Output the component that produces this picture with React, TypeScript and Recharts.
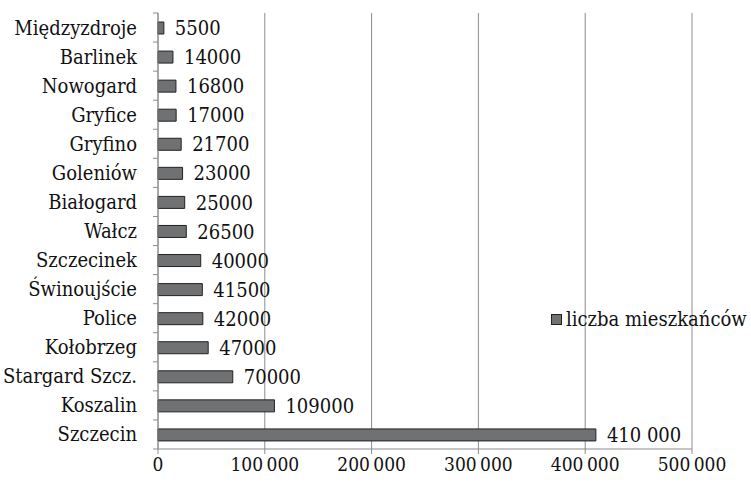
import { BarChart, Bar, XAxis, YAxis, CartesianGrid, Legend, LabelList } from "recharts";

// miasta (od góry) i liczba mieszkańców
const cities = [
  "Międzyzdroje",
  "Barlinek",
  "Nowogard",
  "Gryfice",
  "Gryfino",
  "Goleniów",
  "Białogard",
  "Wałcz",
  "Szczecinek",
  "Świnoujście",
  "Police",
  "Kołobrzeg",
  "Stargard Szcz.",
  "Koszalin",
  "Szczecin",
];
const population = [
  5500, 14000, 16800, 17000, 21700, 23000, 25000, 26500, 40000, 41500, 42000,
  47000, 70000, 109000, 410000,
];
const valueLabels = [
  "5500", "14000", "16800", "17000", "21700", "23000", "25000", "26500",
  "40000", "41500", "42000", "47000", "70000", "109000", "410 000",
];
const xTicks = [0, 100000, 200000, 300000, 400000, 500000];
const xTickLabels = ["0", "100\u2009000", "200\u2009000", "300\u2009000", "400\u2009000", "500\u2009000"];
const seriesName = "liczba mieszkańców";

const data = cities.map((city, i) => ({
  city,
  value: population[i],
  label: valueLabels[i],
}));

const W = 751;
const H = 485;
const M = { top: 13, right: 59, left: 0, bottom: 6 };
const X_AXIS_H = 30;
const Y_AXIS_W = 158;
const band = (H - M.top - M.bottom - X_AXIS_H) / cities.length;

const FONT = "DejaVu Serif Condensed";
const GRID = "#8c8c8c";
const INK = "#111";

// etykieta kategorii + kreska podziałki na granicy pasma
const CityTick = (props: any) => {
  const { x, y, payload, index } = props;
  return (
    <g>
      <text x={x - 21} y={y} dy="0.35em" textAnchor="end" fontSize={20} style={{ fontFamily: FONT }} fill={INK}>
        {payload.value}
      </text>
      <line x1={x - 5} x2={x} y1={y + band / 2} y2={y + band / 2} stroke={GRID} />
      {index === 0 && <line x1={x - 5} x2={x} y1={y - band / 2} y2={y - band / 2} stroke={GRID} />}
    </g>
  );
};

const LegendBox = () => (
  <div style={{ display: "flex", alignItems: "center", fontFamily: FONT, fontSize: 20, color: INK, whiteSpace: "nowrap" }}>
    <span style={{ display: "inline-block", width: 9, height: 9, background: "#6f7173", border: "1px solid #222", marginRight: 4 }} />
    <span>{seriesName}</span>
  </div>
);

export default function App() {
  return (
    <div style={{ position: "absolute", left: 0, top: 0, width: W, height: H, background: "#fff" }}>
      <BarChart width={W} height={H} data={data} layout="vertical" margin={M}>
        <CartesianGrid horizontal={false} vertical stroke={GRID} />
        <XAxis
          type="number"
          domain={[0, 500000]}
          ticks={xTicks}
          tickFormatter={(v: number) => xTickLabels[xTicks.indexOf(v)]}
          height={X_AXIS_H}
          stroke={GRID}
          tick={{ fontSize: 19, fontFamily: FONT, fill: INK }}
          tickSize={5}
          tickMargin={4}
          interval={0}
        />
        <YAxis
          type="category"
          dataKey="city"
          width={Y_AXIS_W}
          stroke={GRID}
          tick={<CityTick />}
          tickLine={false}
          tickSize={0}
          tickMargin={0}
          interval={0}
        />
        <Legend
          layout="horizontal"
          verticalAlign="middle"
          align="center"
          wrapperStyle={{ left: 551, top: 307, width: "auto" }}
          content={<LegendBox />}
        />
        <Bar dataKey="value" name={seriesName} fill="#6f7173" stroke="#222" strokeWidth={1} barSize={12} isAnimationActive={false}>
          <LabelList
            dataKey="label"
            position="right"
            offset={11}
            style={{ fontSize: 20, fontFamily: FONT, fill: INK }}
          />
        </Bar>
      </BarChart>
    </div>
  );
}
